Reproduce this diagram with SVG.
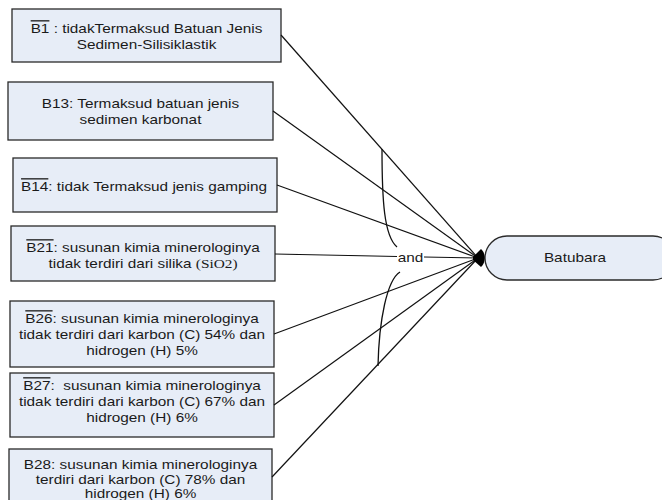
<svg xmlns="http://www.w3.org/2000/svg" width="662" height="500" viewBox="0 0 662 500">
  <style>
    .box { fill: #e7edf7; stroke: #2a2a2a; stroke-width: 1.3; }
    .lbl { font-family: "Liberation Sans", Arial, sans-serif; font-size: 13px; fill: #1a1a1a; text-anchor: middle; }
    .ser { font-family: "Liberation Serif", "Times New Roman", serif; }
    .neg { text-decoration: overline; }
    .wire { fill: none; stroke: #111; stroke-width: 1.2; }
    .arc { fill: none; stroke: #111; stroke-width: 1.3; }
  </style>

  <rect width="662" height="500" fill="#ffffff"/>

  <!-- premise nodes; labels are widened horizontally -->
  <g id="b1">
    <rect class="box" x="12" y="9" width="269" height="53"/>
    <g transform="translate(146.5 0) scale(1.18 1)">
      <text class="lbl" x="0" y="33"><tspan class="neg">B1</tspan> : tidakTermaksud Batuan Jenis</text>
      <text class="lbl" x="0" y="49">Sedimen-Silisiklastik</text>
    </g>
  </g>

  <g id="b13">
    <rect class="box" x="8" y="82" width="265" height="58"/>
    <g transform="translate(140.5 0) scale(1.18 1)">
      <text class="lbl" x="0" y="108">B13: Termaksud batuan jenis</text>
      <text class="lbl" x="0" y="124">sedimen karbonat</text>
    </g>
  </g>

  <g id="b14">
    <rect class="box" x="13" y="158" width="264" height="54"/>
    <g transform="translate(144 0) scale(1.18 1)">
      <text class="lbl" x="0" y="191"><tspan class="neg">B14</tspan>: tidak Termaksud jenis gamping</text>
    </g>
  </g>

  <g id="b21">
    <rect class="box" x="11" y="226" width="264" height="55"/>
    <g transform="translate(143 0) scale(1.18 1)">
      <text class="lbl" x="0" y="252"><tspan class="neg">B21</tspan>: susunan kimia minerologinya</text>
      <text class="lbl" x="0" y="268">tidak terdiri dari silika <tspan class="ser">(SiO2)</tspan></text>
    </g>
  </g>

  <g id="b26">
    <rect class="box" x="10" y="301" width="264" height="66"/>
    <g transform="translate(142 0) scale(1.18 1)">
      <text class="lbl" x="0" y="323"><tspan class="neg">B26</tspan>: susunan kimia minerologinya</text>
      <text class="lbl" x="0" y="339">tidak terdiri dari karbon (C) 54% dan</text>
      <text class="lbl" x="0" y="355">hidrogen (H) 5%</text>
    </g>
  </g>

  <g id="b27">
    <rect class="box" x="10" y="373" width="264" height="64"/>
    <g transform="translate(142 0) scale(1.18 1)">
      <text class="lbl" x="0" y="390" style="white-space:pre"><tspan class="neg">B27</tspan>:  susunan kimia minerologinya</text>
      <text class="lbl" x="0" y="406">tidak terdiri dari karbon (C) 67% dan</text>
      <text class="lbl" x="0" y="422">hidrogen (H) 6%</text>
    </g>
  </g>

  <g id="b28">
    <rect class="box" x="9" y="449" width="263" height="62"/>
    <g transform="translate(140.5 0) scale(1.18 1)">
      <text class="lbl" x="0" y="469">B28: susunan kimia minerologinya</text>
      <text class="lbl" x="0" y="484">terdiri dari karbon (C) 78% dan</text>
      <text class="lbl" x="0" y="498">hidrogen (H) 6%</text>
    </g>
  </g>

  <!-- conclusion node -->
  <g id="batubara">
    <rect class="box" x="485" y="236" width="190" height="44" rx="22" ry="22"/>
    <g transform="translate(575 0) scale(1.18 1)">
      <text class="lbl" x="0" y="262">Batubara</text>
    </g>
  </g>

  <!-- connectors into the AND junction -->
  <g id="connectors">
    <line class="wire" x1="281" y1="35" x2="478" y2="258"/>
    <line class="wire" x1="273" y1="111" x2="478" y2="258"/>
    <line class="wire" x1="277" y1="185" x2="478" y2="258"/>
    <line class="wire" x1="275" y1="254" x2="397" y2="256.5"/>
    <line class="wire" x1="424" y1="257" x2="478" y2="258"/>
    <line class="wire" x1="274" y1="334" x2="478" y2="258"/>
    <line class="wire" x1="274" y1="405" x2="478" y2="258"/>
    <line class="wire" x1="272" y1="477" x2="478" y2="258"/>
    <!-- merged arrowheads -->
    <path d="M473,257 L481,249 C486,253 486,263 481,267 L473,260 Z" fill="#000"/>
    <!-- brackets marking the conjunction -->
    <path class="arc" d="M382,149 C382,200 384,236 397,247"/>
    <path class="arc" d="M400,272 C387,280 379,320 378,366"/>
    <g transform="translate(410.5 0) scale(1.18 1)">
      <text class="lbl" x="0" y="262">and</text>
    </g>
  </g>
</svg>
